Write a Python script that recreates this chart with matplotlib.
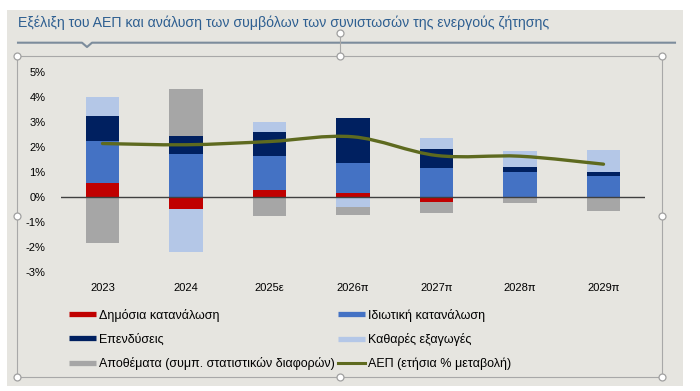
import numpy as np
import matplotlib.pyplot as plt
from matplotlib.patches import Rectangle, PathPatch
from matplotlib.lines import Line2D
from matplotlib.path import Path

plt.rcParams['font.family'] = ['Liberation Sans', 'DejaVu Sans']

years = ["2023", "2024", "2025ε", "2026π", "2027π", "2028π", "2029π"]
public = [0.56, -0.51, 0.27, 0.14, -0.20, 0.00, 0.00]
private = [1.68, 1.71, 1.36, 1.20, 1.14, 1.00, 0.84]
invest = [1.00, 0.74, 0.98, 1.81, 0.78, 0.18, 0.16]
net_exports = [0.78, -1.72, 0.39, -0.40, 0.45, 0.67, 0.89]
inventories = [-1.86, 1.88, -0.78, -0.33, -0.44, -0.23, -0.56]
gdp = [2.14, 2.09, 2.22, 2.41, 1.66, 1.63, 1.31]

names = ["Δημόσια κατανάλωση", "Ιδιωτική κατανάλωση", "Επενδύσεις",
         "Καθαρές εξαγωγές", "Αποθέματα (συμπ. στατιστικών διαφορών)"]
gdp_name = "ΑΕΠ (ετήσια % μεταβολή)"
colors = ["#C00000", "#4472C4", "#002060", "#B4C7E7", "#A6A6A6"]
gdp_color = "#5E6A1F"
title = "Εξέλιξη του ΑΕΠ και ανάλυση των συμβόλων των συνιστωσών της ενεργούς ζήτησης"

W, H = 700, 391
fig = plt.figure(figsize=(W / 100, H / 100), dpi=100)
fig.patch.set_facecolor("white")


def px(x, y):
    return x / W, 1 - y / H


# grey panel behind everything
fig.add_artist(Rectangle(px(7, 386), 676 / W, 376 / H, transform=fig.transFigure,
                         facecolor="#E6E5E0", edgecolor="none", zorder=0))

# title and underline with the small notch
fig.text(*px(18, 23), title, fontsize=10.2, color="#2E5F91", va="center", ha="left")
ux = [18, 82, 87, 92, 675]
uy = [42.7, 42.7, 47, 42.7, 42.7]
fig.add_artist(Line2D([x / W for x in ux], [1 - y / H for y in uy],
                      transform=fig.transFigure, color="#7C8C9C", lw=1.5))

# selection frame with handles
fx0, fy0, fx1, fy1 = 17, 56, 662, 377
fig.add_artist(Line2D([fx0 / W, fx1 / W, fx1 / W, fx0 / W, fx0 / W],
                      [1 - fy0 / H, 1 - fy0 / H, 1 - fy1 / H, 1 - fy1 / H, 1 - fy0 / H],
                      transform=fig.transFigure, color="#A8A8A8", lw=0.8))
fig.add_artist(Line2D([340 / W, 340 / W], [1 - 36 / H, 1 - fy0 / H],
                      transform=fig.transFigure, color="#A8A8A8", lw=0.8))
hx = [fx0, 340, fx1, fx0, fx1, fx0, 340, fx1, 340]
hy = [fy0, fy0, fy0, 216, 216, fy1, fy1, fy1, 33]
fig.add_artist(Line2D([x / W for x in hx], [1 - y / H for y in hy],
                      transform=fig.transFigure, ls="none", marker="o", ms=5,
                      mfc="white", mec="#A0A0A0", mew=0.9))

ax = fig.add_axes([60.75 / W, 1 - 271.5 / H, 584.5 / W, 199.2 / H])
ax.set_facecolor("none")

x = np.arange(len(years))
series = [public, private, invest, net_exports, inventories]
pos_base = np.zeros(len(years))
neg_base = np.zeros(len(years))
for vals, c, n in zip(series, colors, names):
    v = np.array(vals)
    bottom = np.where(v >= 0, pos_base, neg_base)
    ax.bar(x, v, bottom=bottom, width=0.4, color=c, label=n, zorder=2)
    pos_base += np.where(v >= 0, v, 0)
    neg_base += np.where(v < 0, v, 0)

# smoothed GDP line (Bezier through the points)
pts = np.column_stack([x, gdp]).astype(float)
verts = [pts[0]]
codes = [Path.MOVETO]
for i in range(len(pts) - 1):
    p0 = pts[max(i - 1, 0)]
    p1 = pts[i]
    p2 = pts[i + 1]
    p3 = pts[min(i + 2, len(pts) - 1)]
    c1 = p1 + (p2 - p0) / 6
    c2 = p2 - (p3 - p1) / 6
    verts += [c1, c2, p2]
    codes += [Path.CURVE4] * 3
ax.add_patch(PathPatch(Path(verts, codes), facecolor="none", edgecolor=gdp_color,
                       lw=2.4, capstyle="round", zorder=4))

ax.axhline(0, color="#404040", lw=1, zorder=3)
ax.set_xlim(-0.5, len(years) - 0.5)
ax.set_ylim(-3, 5)
yt = list(range(-3, 6))
ax.set_yticks(yt)
ax.set_yticklabels([f"{v}%" for v in yt])
ax.set_xticks(x)
ax.set_xticklabels(years)
ax.tick_params(length=0, labelsize=8, colors="black")
ax.tick_params(axis="y", pad=11)
ax.tick_params(axis="x", pad=8)
for s in ax.spines.values():
    s.set_visible(False)

# legend, column-major order
h = [Line2D([], [], color=c, lw=3.8, solid_capstyle="butt") for c in colors]
h.append(Line2D([], [], color=gdp_color, lw=2.2))
labels = names + [gdp_name]
order = [0, 2, 4, 1, 3, 5]
fig.legend([h[i] for i in order], [labels[i] for i in order], ncol=2,
           loc="upper left", bbox_to_anchor=px(69, 308.8), frameon=False,
           fontsize=9, handlelength=2.15, handletextpad=0.25, columnspacing=0.25,
           labelspacing=0.92, borderpad=0, borderaxespad=0)

fig.savefig("out.png", dpi=100)
